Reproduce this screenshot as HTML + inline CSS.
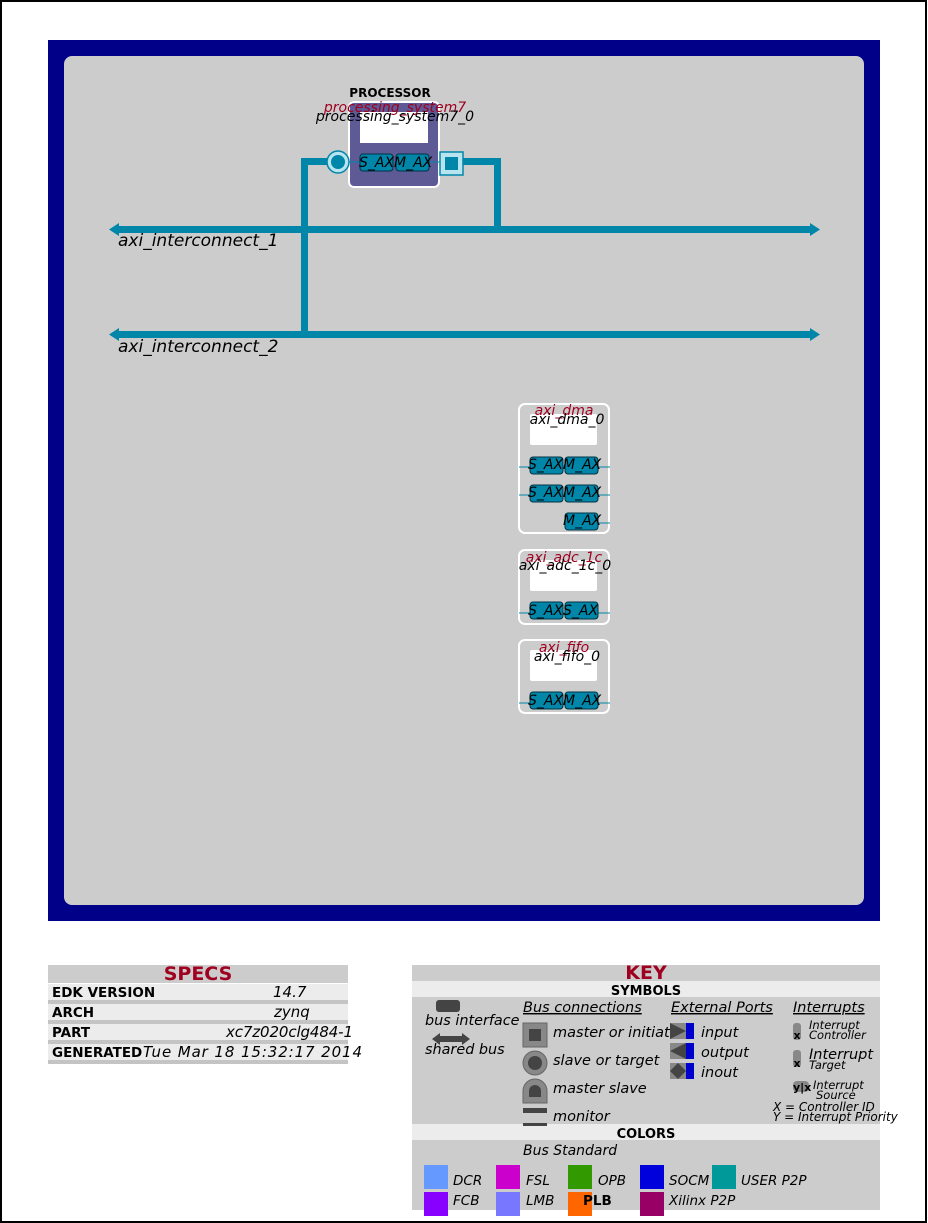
<!DOCTYPE html>
<html><head><meta charset="utf-8"><style>
html,body{margin:0;padding:0;background:#fff;}
svg{display:block;}
text{font-family:"DejaVu Sans","Liberation Sans",sans-serif;}
.i{font-style:italic;}
.b{font-weight:bold;}
</style></head><body>
<svg width="928" height="1223" viewBox="0 0 928 1223" xmlns="http://www.w3.org/2000/svg">
<rect x="0" y="0" width="928" height="1223" fill="#fff"/>
<rect x="1" y="1" width="925" height="1221" fill="none" stroke="#000" stroke-width="2"/>
<rect x="48" y="40" width="832" height="881" fill="#000088"/>
<rect x="64" y="56" width="800" height="849" rx="8" fill="#cccccc"/>

<g fill="#0086a8">
<rect x="116" y="226" width="696" height="7"/>
<polygon points="109,229.5 119,223 119,236"/>
<polygon points="820,229.5 810,223 810,236"/>
<rect x="116" y="331" width="696" height="7"/>
<polygon points="109,334.5 119,328 119,341"/>
<polygon points="820,334.5 810,328 810,341"/>
<rect x="301" y="158" width="7" height="180"/>
<rect x="301" y="158" width="36" height="7"/>
<rect x="494" y="158" width="7" height="72"/>
<rect x="458" y="158" width="43" height="7"/>
</g>
<text x="118" y="246" font-size="17" class="i">axi_interconnect_1</text>
<text x="118" y="352" font-size="17" class="i">axi_interconnect_2</text>

<text x="390" y="97" font-size="12" class="b" text-anchor="middle">PROCESSOR</text>
<rect x="349" y="102" width="90" height="85" rx="5" fill="#5d5a96" stroke="#fff" stroke-width="2"/>
<rect x="360" y="112" width="68" height="31" fill="#fff"/>
<text x="395" y="112" font-size="14" class="i" fill="#a00020" text-anchor="middle">processing_system7</text>
<text x="395" y="121" font-size="14" class="i" text-anchor="middle">processing_system7_0</text>
<line x1="345" y1="162" x2="458" y2="162" stroke="#0086a8" stroke-width="1"/>
<rect x="360" y="154" width="33" height="17" rx="3" fill="#0086a8" stroke="#003344"/>
<rect x="396" y="154" width="33" height="17" rx="3" fill="#0086a8" stroke="#003344"/>
<text x="359" y="167" font-size="14" class="i">S_AX</text>
<text x="394" y="167" font-size="14" class="i">M_AX</text>
<circle cx="338" cy="162" r="11" fill="#b8e4f0" stroke="#0086a8" stroke-width="1.5"/>
<circle cx="338" cy="162" r="7" fill="#0086a8"/>
<rect x="440" y="152" width="23" height="23" fill="#b8e4f0" stroke="#0086a8" stroke-width="1.5"/>
<rect x="445" y="157" width="13" height="13" fill="#0086a8"/>

<rect x="519" y="404" width="90" height="129" rx="6" fill="#cccccc" stroke="#fff" stroke-width="2"/>
<rect x="530" y="414" width="67" height="31" rx="2" fill="#fff"/>
<text x="564" y="415" font-size="14" class="i" fill="#a00020" text-anchor="middle">axi_dma</text>
<text x="567" y="424" font-size="14" class="i" text-anchor="middle">axi_dma_0</text>
<g stroke="#0086a8"><line x1="519" y1="467" x2="610" y2="467"/><line x1="519" y1="495" x2="610" y2="495"/><line x1="598" y1="523" x2="610" y2="523"/></g>
<g fill="#0086a8" stroke="#003344">
<rect x="530" y="457" width="33" height="17" rx="3"/><rect x="565" y="457" width="33" height="17" rx="3"/>
<rect x="530" y="485" width="33" height="17" rx="3"/><rect x="565" y="485" width="33" height="17" rx="3"/>
<rect x="565" y="513" width="33" height="17" rx="3"/>
</g>
<g font-size="14" class="i">
<text x="528" y="469">S_AX</text><text x="563" y="469">M_AX</text>
<text x="528" y="497">S_AX</text><text x="563" y="497">M_AX</text>
<text x="563" y="525">M_AX</text>
</g>

<rect x="519" y="550" width="90" height="74" rx="6" fill="#cccccc" stroke="#fff" stroke-width="2"/>
<rect x="530" y="560" width="67" height="31" rx="2" fill="#fff"/>
<text x="564" y="562" font-size="14" class="i" fill="#a00020" text-anchor="middle">axi_adc_1c</text>
<text x="565" y="570" font-size="14" class="i" text-anchor="middle">axi_adc_1c_0</text>
<line x1="519" y1="613" x2="610" y2="613" stroke="#0086a8"/>
<g fill="#0086a8" stroke="#003344"><rect x="530" y="602" width="33" height="17" rx="3"/><rect x="565" y="602" width="33" height="17" rx="3"/></g>
<g font-size="14" class="i"><text x="528" y="615">S_AX</text><text x="563" y="615">S_AX</text></g>

<rect x="519" y="640" width="90" height="73" rx="6" fill="#cccccc" stroke="#fff" stroke-width="2"/>
<rect x="530" y="650" width="67" height="31" rx="2" fill="#fff"/>
<text x="564" y="652" font-size="14" class="i" fill="#a00020" text-anchor="middle">axi_fifo</text>
<text x="567" y="661" font-size="14" class="i" text-anchor="middle">axi_fifo_0</text>
<line x1="519" y1="703" x2="610" y2="703" stroke="#0086a8"/>
<g fill="#0086a8" stroke="#003344"><rect x="530" y="692" width="33" height="17" rx="3"/><rect x="565" y="692" width="33" height="17" rx="3"/></g>
<g font-size="14" class="i"><text x="528" y="705">S_AX</text><text x="563" y="705">M_AX</text></g>

<rect x="48" y="965" width="300" height="18" fill="#cccccc"/>
<text x="198" y="980" font-size="19" class="b" fill="#a00020" text-anchor="middle">SPECS</text>
<g fill="#ececec"><rect x="48" y="984" width="300" height="16"/><rect x="48" y="1004" width="300" height="16"/><rect x="48" y="1024" width="300" height="16"/><rect x="48" y="1044" width="300" height="16"/></g>
<g fill="#c4c4c4"><rect x="48" y="1000" width="300" height="4"/><rect x="48" y="1020" width="300" height="4"/><rect x="48" y="1040" width="300" height="4"/><rect x="48" y="1060" width="300" height="4"/></g>
<g font-size="13.5" class="b"><text x="52" y="997">EDK VERSION</text><text x="52" y="1017">ARCH</text><text x="52" y="1037">PART</text><text x="52" y="1057">GENERATED</text></g>
<g font-size="15" class="i"><text x="273" y="997">14.7</text><text x="274" y="1017">zynq</text><text x="226" y="1037" textLength="127">xc7z020clg484-1</text><text x="143" y="1057" textLength="219">Tue Mar 18 15:32:17 2014</text></g>

<rect x="412" y="965" width="468" height="245" fill="#cccccc"/>
<rect x="412" y="981" width="468" height="16" fill="#ececec"/>
<rect x="412" y="1124" width="468" height="16" fill="#ececec"/>
<text x="646" y="979" font-size="19" class="b" fill="#a00020" text-anchor="middle">KEY</text>
<text x="646" y="995" font-size="13" class="b" text-anchor="middle">SYMBOLS</text>
<text x="646" y="1138" font-size="13" class="b" text-anchor="middle">COLORS</text>

<rect x="436" y="1000" width="24" height="12" rx="3" fill="#444"/>
<text x="425" y="1025" font-size="14.4" class="i">bus interface</text>
<polygon points="432,1039 440,1033 440,1036 462,1036 462,1033 470,1039 462,1045 462,1042 440,1042 440,1045" fill="#444"/>
<text x="425" y="1054" font-size="14.4" class="i">shared bus</text>

<g font-size="14.5" class="i">
<text x="523" y="1012" text-decoration="underline">Bus connections</text>
<text x="671" y="1012" text-decoration="underline">External Ports</text>
<text x="793" y="1012" text-decoration="underline">Interrupts</text>
<text x="553" y="1037">master or initiat</text>
<text x="553" y="1065">slave or target</text>
<text x="553" y="1093">master slave</text>
<text x="553" y="1121">monitor</text>
<text x="701" y="1037">input</text>
<text x="701" y="1057">output</text>
<text x="701" y="1077">inout</text>
</g>
<rect x="523" y="1023" width="24" height="24" fill="#888" stroke="#666"/>
<rect x="529" y="1029" width="12" height="12" fill="#444"/>
<circle cx="535" cy="1063" r="12" fill="#888" stroke="#666"/>
<circle cx="535" cy="1063" r="7" fill="#444"/>
<path d="M523,1103 V1091 A12,12 0 0 1 547,1091 V1103 Z" fill="#888" stroke="#666"/>
<path d="M529,1097 V1091 A6,6 0 0 1 541,1091 V1097 Z" fill="#444"/>
<rect x="523" y="1108" width="24" height="5" fill="#444"/>
<rect x="523" y="1123" width="24" height="3" fill="#444"/>

<rect x="670" y="1023" width="16" height="16" fill="#888"/><polygon points="670,1023 686,1031 670,1039" fill="#444"/><rect x="686" y="1023" width="8" height="16" fill="#0000cc"/>
<rect x="670" y="1043" width="16" height="16" fill="#888"/><polygon points="686,1043 670,1051 686,1059" fill="#444"/><rect x="686" y="1043" width="8" height="16" fill="#0000cc"/>
<rect x="670" y="1063" width="16" height="16" fill="#888"/><polygon points="678,1063 686,1071 678,1079 670,1071" fill="#444"/><rect x="686" y="1063" width="8" height="16" fill="#0000cc"/>

<rect x="793" y="1023" width="8" height="17" rx="3" fill="#888"/>
<text x="797" y="1039" font-size="11" class="b" text-anchor="middle">x</text>
<text x="809" y="1029" font-size="11.5" class="i">Interrupt</text>
<text x="809" y="1039" font-size="11.5" class="i">Controller</text>
<rect x="793" y="1050" width="8" height="17" rx="3" fill="#888"/>
<text x="797" y="1067" font-size="11" class="b" text-anchor="middle">x</text>
<text x="809" y="1059" font-size="14.5" class="i">Interrupt</text>
<text x="809" y="1069" font-size="11.5" class="i">Target</text>
<rect x="793" y="1081" width="16" height="11" rx="4" fill="#888"/>
<text x="793" y="1091" font-size="11" class="b">y|x</text>
<text x="813" y="1089" font-size="11.5" class="i">Interrupt</text>
<text x="816" y="1099" font-size="11.5" class="i">Source</text>
<text x="773" y="1111" font-size="12" class="i">X = Controller ID</text>
<text x="773" y="1121" font-size="12" class="i">Y = Interrupt Priority</text>

<text x="523" y="1155" font-size="14" class="i">Bus Standard</text>
<rect x="424" y="1165" width="24" height="24" fill="#6699ff"/><text x="453" y="1185" font-size="13.5" class="i">DCR</text>
<rect x="496" y="1165" width="24" height="24" fill="#cc00cc"/><text x="526" y="1185" font-size="13.5" class="i">FSL</text>
<rect x="568" y="1165" width="24" height="24" fill="#339900"/><text x="598" y="1185" font-size="13.5" class="i">OPB</text>
<rect x="640" y="1165" width="24" height="24" fill="#0000dd"/><text x="669" y="1185" font-size="13.5" class="i">SOCM</text>
<rect x="712" y="1165" width="24" height="24" fill="#009999"/><text x="741" y="1185" font-size="13.5" class="i">USER P2P</text>
<rect x="424" y="1192" width="24" height="24" fill="#8800ff"/><text x="453" y="1205" font-size="13.5" class="i">FCB</text>
<rect x="496" y="1192" width="24" height="24" fill="#7777ff"/><text x="526" y="1205" font-size="13.5" class="i">LMB</text>
<rect x="568" y="1192" width="24" height="24" fill="#ff6600"/><text x="583" y="1205" font-size="13.5" class="b">PLB</text>
<rect x="640" y="1192" width="24" height="24" fill="#990066"/><text x="669" y="1205" font-size="13.5" class="i">Xilinx P2P</text>
</svg>
</body></html>
